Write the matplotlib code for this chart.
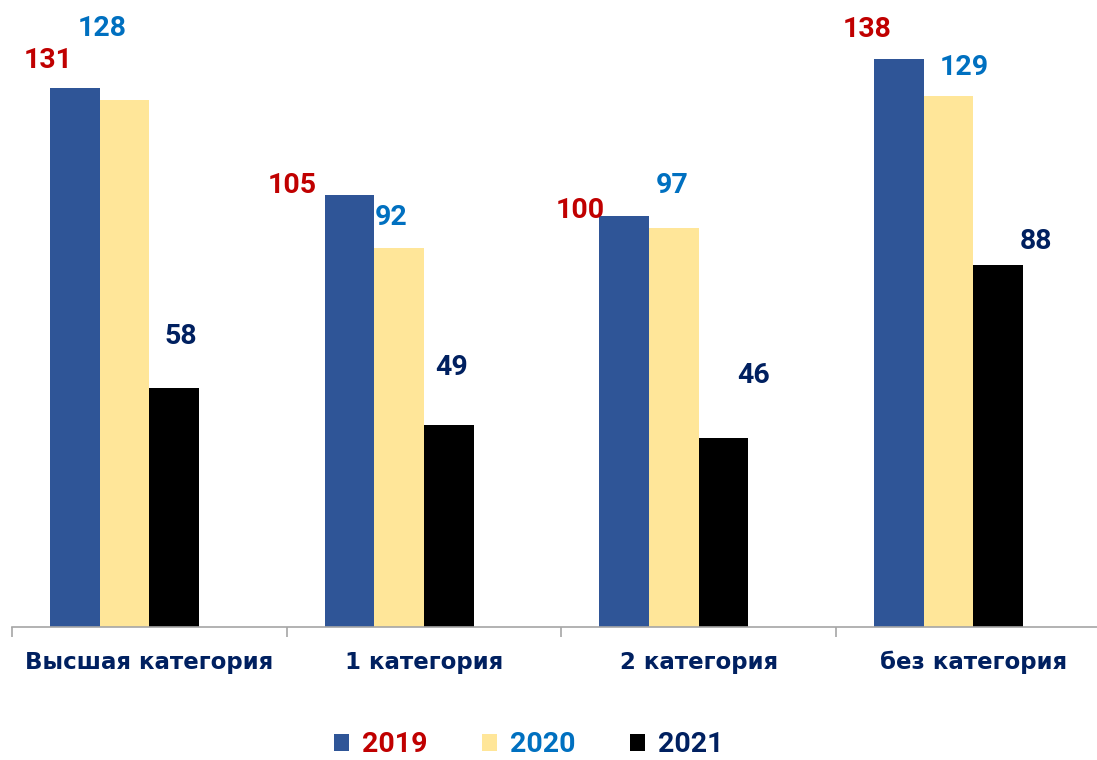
import matplotlib.pyplot as plt
import numpy as np
from matplotlib.patches import Patch

categories = ['Высшая категория', '1 категория', '2 категория', 'без категория']
years = ['2019', '2020', '2021']
values_2019 = [131, 105, 100, 138]
values_2020 = [128, 92, 97, 129]
values_2021 = [58, 49, 46, 88]

bar_colors = ['#2F5597', '#FFE699', '#000000']
text_colors = ['#C00000', '#0070C0', '#002060']

# hand-placed label offsets (pixels from top centre of each bar), as in the original
label_offsets = [
    [(-27, 28), (-57, 10), (-44, 5), (-32, 30)],
    [(-22, 72), (-8, 31), (-2, 42), (16, 29)],
    [(7, 52), (3, 58), (30, 62), (38, 23)],
]

fig = plt.figure(figsize=(10.97, 7.6), dpi=100)
ax = fig.add_axes([12 / 1097, 133 / 760, 1085 / 1097, 627 / 760])

x = np.arange(len(categories))
w = 0.181
series = [values_2019, values_2020, values_2021]
for i, vals in enumerate(series):
    bars = ax.bar(x + (i - 1.5) * w, vals, width=w, color=bar_colors[i], label=years[i], zorder=2)
    for bar, v, off in zip(bars, vals, label_offsets[i]):
        ax.annotate(str(v), (bar.get_x() + bar.get_width() / 2, v),
                    xytext=off, textcoords='offset pixels', ha='center', va='center',
                    fontsize=20.5, fontweight='bold', color=text_colors[i], family='Roboto')

ax.set_xlim(-0.5, 3.45)
ax.set_ylim(0, 152.4)

for s in ['top', 'right', 'left']:
    ax.spines[s].set_visible(False)
ax.spines['bottom'].set_color('#A6A6A6')
ax.spines['bottom'].set_linewidth(1.2)
ax.set_yticks([])

ax.set_xticks(x)
ax.set_xticklabels(categories, fontsize=16.5, fontweight='bold', color='#002060')
ax.tick_params(axis='x', which='major', length=0, pad=17)
ax.set_xticks([-0.5, 0.5, 1.5, 2.5], minor=True)
ax.tick_params(axis='x', which='minor', length=7, width=1.2, color='#A6A6A6', direction='out')

handles = [Patch(facecolor=c) for c in bar_colors]
leg = fig.legend(handles, years, loc='center', bbox_to_anchor=(0.482, 0.02), ncol=3,
                 frameon=False, handlelength=0.55, handleheight=0.55, handletextpad=0.45,
                 columnspacing=1.9, prop={'family': 'Roboto', 'weight': 'bold', 'size': 20.5})
for t, c in zip(leg.get_texts(), text_colors):
    t.set_color(c)

plt.savefig('out.png', dpi=100)
plt.close(fig)
